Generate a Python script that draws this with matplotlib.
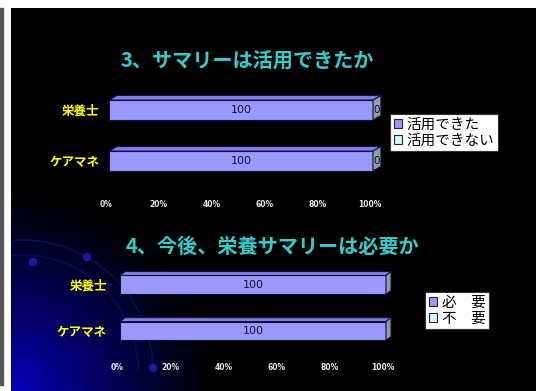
import numpy as np
import matplotlib
matplotlib.use("Agg")
from matplotlib import pyplot as plt
from matplotlib.patches import Polygon, Rectangle, Patch, Circle, Arc
from matplotlib.transforms import ScaledTranslation

plt.rcParams['font.family'] = ['Noto Sans CJK JP', 'DejaVu Sans']

# data
categories = ['ケアマネ', '栄養士']
used = [100, 100]
not_used = [0, 0]
need = [100, 100]
no_need = [0, 0]
xticks = [0, 20, 40, 60, 80, 100]
xtick_labels = ['0%', '20%', '40%', '60%', '80%', '100%']

title1 = '3、サマリーは活用できたか'
title2 = '4、今後、栄養サマリーは必要か'
legend1 = ['活用できた', '活用できない']
legend2 = ['必\u3000要', '不\u3000要']

W, H = 536, 391
fig = plt.figure(figsize=(W / 100, H / 100), dpi=100)
fig.patch.set_facecolor('white')

# slide background in pixel coordinates
bg = fig.add_axes([0, 0, 1, 1])
bg.set_xlim(0, W)
bg.set_ylim(H, 0)
bg.axis('off')
bg.add_patch(Rectangle((0, 8), 2.5, 377, color='#555555'))
yy, xx = np.mgrid[8:H, 11:W]
r = np.hypot(xx - 5, yy - 400) / 215.0
glow = np.clip(1 - r, 0, 1) ** 1.2
img = np.zeros(xx.shape + (3,))
img[..., 2] = 0.78 * glow
img[..., 0] = 0.02 * glow
bg.imshow(img, extent=(11, W, H, 8), aspect='auto', interpolation='bilinear')
for rad, a in [(131, 0.55), (116, 0.4)]:
    bg.add_patch(Arc((22, 371), 2 * rad, 2 * rad, theta1=265, theta2=360,
                     color='#18187a', lw=1.2, alpha=a))
for cx, cy in [(33, 262), (87, 257), (153, 368)]:
    bg.add_patch(Circle((cx, cy), 3.5, color='#1a1aa0'))

front = '#9999ff'
top_c = '#8080e6'
side_c = '#8c9ea4'
edge = '#101040'


def px_axes(x0, x1, y0, y1):
    return fig.add_axes([x0 / W, 1 - y1 / H, (x1 - x0) / W, (y1 - y0) / H])


def draw_chart(ax, a, b, ylim, height, dx, dy, ypad, xpad, xshift, zero_labels):
    ax.set_xlim(0, 100)
    ax.set_ylim(*ylim)
    ax.patch.set_alpha(0)
    for s in ax.spines.values():
        s.set_visible(False)
    y = np.arange(len(categories))
    ax.barh(y, a, height=height, color=front, edgecolor=edge, lw=0.8, zorder=3)
    ax.barh(y, b, left=a, height=height, color='#ccffff', edgecolor=edge, lw=0.8, zorder=3)
    for yi, va, vb in zip(y, a, b):
        t = yi + height / 2
        bot = yi - height / 2
        ax.add_patch(Polygon([(0, t), (va + vb, t), (va + vb + dx, t + dy), (dx, t + dy)],
                             closed=True, fc=top_c, ec=edge, lw=0.8, zorder=3, clip_on=False))
        e = va + vb
        ax.add_patch(Polygon([(e, bot), (e, t), (e + dx, t + dy), (e + dx, bot + dy)],
                             closed=True, fc=side_c, ec=edge, lw=0.8, zorder=3, clip_on=False))
        ax.text(va / 2, yi, str(va), ha='center', va='center', fontsize=8,
                color='#101030', family='DejaVu Sans', zorder=4)
        if zero_labels:
            ax.text(va + dx / 2, yi, str(vb), ha='center', va='center', fontsize=7.5,
                    color='#101030', family='DejaVu Sans', zorder=4, clip_on=False)
    ax.set_yticks(y, categories)
    ax.set_xticks(xticks, xtick_labels)
    ax.tick_params(length=0)
    ax.tick_params(axis='y', pad=ypad, labelsize=9, labelcolor='#ffff00')
    ax.tick_params(axis='x', pad=xpad, labelsize=5.5, labelcolor='#e8e8e8')
    for lab in ax.get_yticklabels():
        lab.set_fontweight('bold')
    for lab in ax.get_xticklabels():
        lab.set_family('DejaVu Sans')
        lab.set_fontweight('bold')
        lab.set_transform(lab.get_transform() + ScaledTranslation(xshift / 100, 0, fig.dpi_scale_trans))


def add_legend(ax, labels, x, y, fs):
    handles = [Patch(fc=front, ec='#202040', lw=0.8), Patch(fc='#ccffff', ec='#202040', lw=0.8)]
    leg = ax.legend(handles, labels, loc='upper left', bbox_to_anchor=(x / W, 1 - y / H),
                    bbox_transform=fig.transFigure, fontsize=fs, frameon=True, fancybox=False,
                    framealpha=1, facecolor='white',
                    handlelength=0.6, handleheight=0.6, handletextpad=0.3, borderpad=0.25,
                    labelspacing=0.15, borderaxespad=0)
    leg.get_frame().set_edgecolor('#333333')
    leg.get_frame().set_linewidth(0.8)


ax1 = px_axes(109, 373, 85, 185)
draw_chart(ax1, used, not_used, (-0.47, 1.49), 0.39, 3.0, 0.09, 7, 10.5, -3, True)
add_legend(ax1, legend1, 390, 114, 10.5)

ax2 = px_axes(120, 386, 260, 355)
draw_chart(ax2, need, no_need, (-0.52, 1.54), 0.41, 1.9, 0.085, 9.5, 5.5, -3, False)
add_legend(ax2, legend2, 425, 292, 10.5)

fig.text(247 / W, 1 - 60 / H, title1, ha='center', va='center', fontsize=14.5,
         color='#33cccc', fontweight='bold')
fig.text(272 / W, 1 - 246 / H, title2, ha='center', va='center', fontsize=14.5,
         color='#33cccc', fontweight='bold')

fig.savefig('out.png', dpi=100, facecolor='white')
